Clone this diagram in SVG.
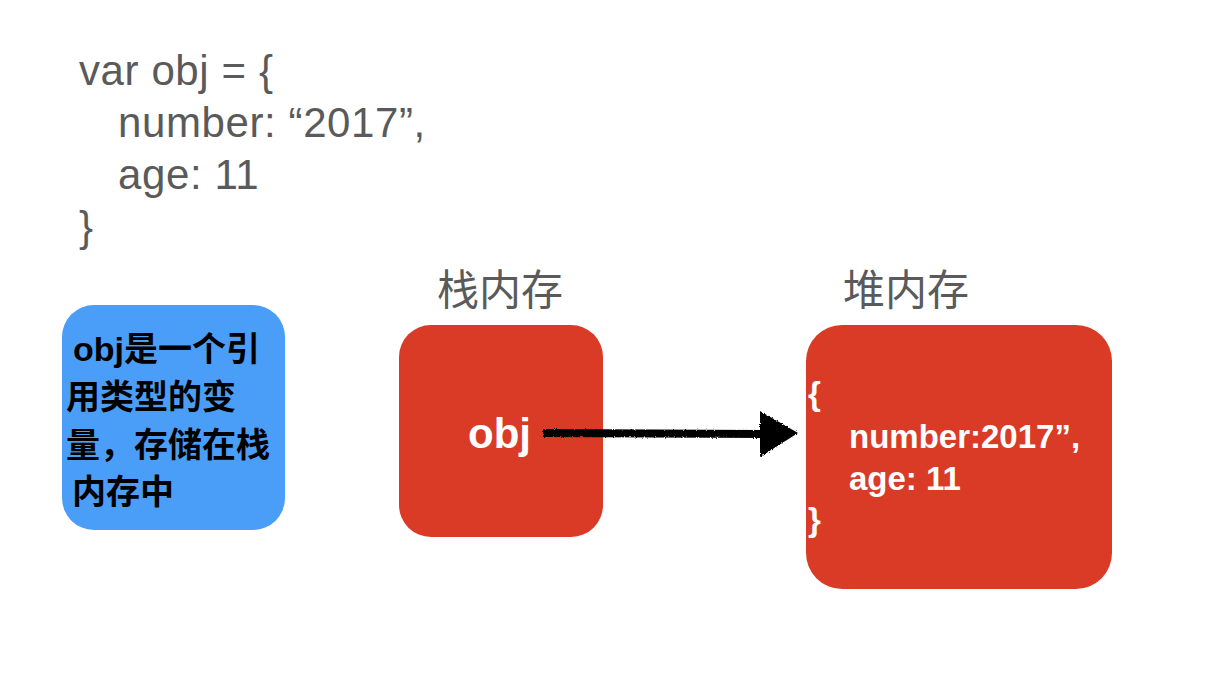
<svg xmlns="http://www.w3.org/2000/svg" width="1218" height="682" viewBox="0 0 1218 682">
<style>
.code{font-family:"Liberation Sans","Noto Sans CJK SC",sans-serif;font-size:42px;letter-spacing:0.6px;fill:#5a5a5a}
.lbl{font-family:"Noto Sans CJK SC","Liberation Sans",sans-serif;font-size:42px;fill:#5a5a5a}
.red{fill:#DA3B27}
.wt{font-family:"Liberation Sans","Noto Sans CJK SC",sans-serif;font-weight:bold;fill:#ffffff}
.bt{font-family:"Liberation Sans","Noto Sans CJK SC",sans-serif;font-weight:bold;font-size:34px;fill:#000000}
</style>
<defs>
<filter id="rough" x="-5%" y="-50%" width="110%" height="200%">
<feTurbulence type="fractalNoise" baseFrequency="0.9" numOctaves="2" seed="3" result="n"/>
<feDisplacementMap in="SourceGraphic" in2="n" scale="3" xChannelSelector="R" yChannelSelector="G"/>
</filter>
</defs>
<rect width="1218" height="682" fill="#ffffff"/>
<g id="code">
<text class="code" x="79" y="85">var obj = {</text>
<text class="code" x="118" y="137">number: “2017”,</text>
<text class="code" x="118" y="189">age: 11</text>
<text class="code" x="79" y="241">}</text>
</g>
<g id="desc">
<rect x="62" y="305" width="223" height="225" rx="32" fill="#4A9EF7"/>
<text class="bt" x="73" y="361">obj是一个引</text>
<text class="bt" x="66" y="409">用类型的变</text>
<text class="bt" x="66" y="457">量，存储在栈</text>
<text class="bt" x="72" y="504">内存中</text>
</g>
<g id="stack">
<text class="lbl" x="437" y="305">栈内存</text>
<rect class="red" x="399" y="325" width="204" height="212" rx="32"/>
<text class="wt" x="468" y="448" font-size="42">obj</text>
</g>
<g id="heap">
<text class="lbl" x="843" y="305">堆内存</text>
<rect class="red" x="806" y="325" width="306" height="264" rx="36"/>
<text class="wt" font-size="33" x="808" y="405">{</text>
<text class="wt" font-size="33" x="849" y="448">number:2017”,</text>
<text class="wt" font-size="33" x="849" y="490">age: 11</text>
<text class="wt" font-size="33" x="808" y="531">}</text>
</g>
<g id="connectors" filter="url(#rough)">
<path d="M543,433 L765,434" stroke="#000" stroke-width="8" fill="none"/>
<polygon points="760,411 798,433 760,457" fill="#000"/>
</g>
</svg>
